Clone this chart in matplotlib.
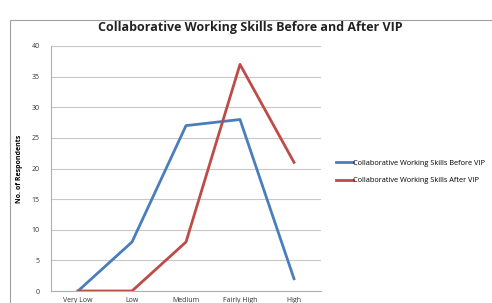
import matplotlib.pyplot as plt
from matplotlib.patches import Rectangle

categories = ['Very Low', 'Low', 'Medium', 'Fairly High', 'High']
before_vip = [0, 8, 27, 28, 2]
after_vip = [0, 0, 8, 37, 21]

plt.rcParams['font.family'] = ['Open Sans', 'DejaVu Sans']

fig = plt.figure(figsize=(4.92, 3.03), dpi=100)
fig.patches.append(Rectangle((10/492, -0.2), 1.0, (303-20)/303 + 0.2, transform=fig.transFigure,
                             fill=False, edgecolor='#a0a0a0', lw=0.8))

ax = fig.add_axes([51/492, 1-291/303, 270/492, 245/303])
x = range(len(categories))
ax.plot(x, before_vip, color='#4a7ebb', lw=2.0, label='Collaborative Working Skills Before VIP')
ax.plot(x, after_vip, color='#be4b48', lw=2.0, label='Collaborative Working Skills After VIP')

ax.set_xlim(-0.5, 4.5)
ax.set_ylim(0, 40)
ax.set_yticks(range(0, 41, 5))
ax.set_xticks(list(x))
ax.set_xticklabels(categories)
ax.tick_params(axis='both', length=0, labelsize=5, colors='#333333')
ax.tick_params(axis='y', pad=8)
ax.tick_params(axis='x', pad=4)
ax.yaxis.grid(True, color='#c8c8c8', lw=0.8)
ax.set_axisbelow(True)
for s in ['top', 'right']:
    ax.spines[s].set_visible(False)
ax.spines['left'].set_color('#b0b0b0')
ax.spines['bottom'].set_color('#b0b0b0')
ax.set_ylabel('No. of Respondents', fontsize=5, fontweight='bold', labelpad=6)

fig.text(250/492, 1-28/303, 'Collaborative Working Skills Before and After VIP',
         ha='center', va='center', fontsize=9, fontweight='bold', color='#222222')

ax.legend(loc='center left', bbox_to_anchor=(1.03, 0.485), frameon=False, fontsize=5.3,
          handlelength=2.3, handletextpad=0.05, labelspacing=1.4)

fig.savefig('out.png', dpi=100)
